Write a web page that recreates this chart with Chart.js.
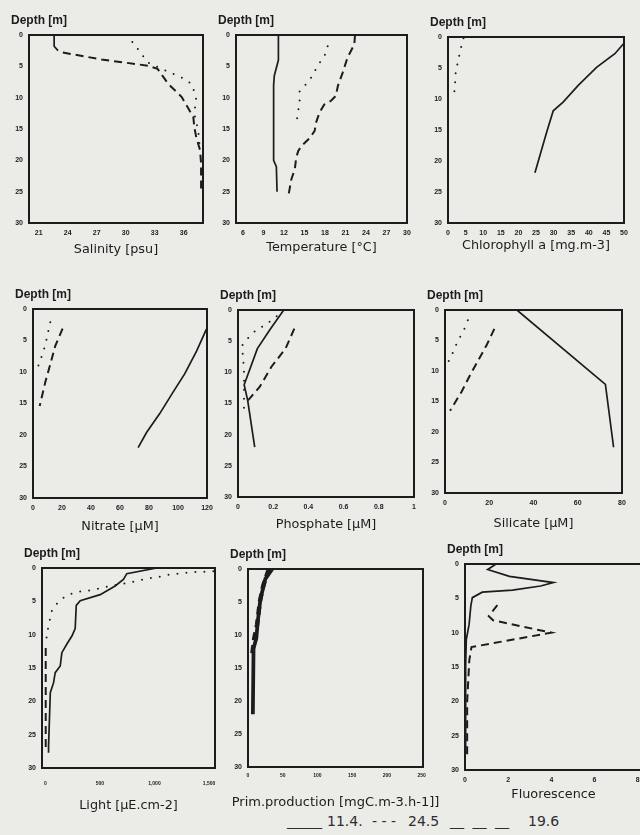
<!DOCTYPE html>
<html>
<head>
<meta charset="utf-8">
<script src="https://cdn.jsdelivr.net/npm/chart.js@4.4.1/dist/chart.umd.min.js"></script>
<style>
  body { margin: 0; width: 640px; height: 835px; overflow: hidden; position: relative;
         background: #ebebe8; font-family: "DejaVu Sans", sans-serif; }
  .key { position: absolute; top: 813px; font-size: 14px; line-height: 16px; color: #2e2e2e; white-space: pre; }
</style>
</head>
<body>
<span class="key" style="left:287px">_____</span>
<span class="key" style="left:327px">11.4.</span>
<span class="key" style="left:372px">- - -</span>
<span class="key" style="left:408px">24.5</span>
<span class="key" style="left:450px;word-spacing:4px">__ __ __</span>
<span class="key" style="left:528px">19.6</span>
<script>
// station profiles as [value, depth] pairs; solid = 11.4., dotted = 24.5, dashed = 19.6
const depthTicks = [0, 5, 10, 15, 20, 25, 30];

const salinitySolid = [[22.6, 0], [22.6, 1.8], [23.0, 2.5]];
const salinityDotted = [[30.1, 0], [30.9, 1.5], [32.3, 4.4], [33.7, 5.4], [35.8, 6.8], [36.8, 7.8],
  [37.3, 9.9], [37.1, 12.6], [37.5, 15.2], [37.7, 18.4]];
const salinityDashed = [[23.5, 2.8], [27.5, 3.9], [32.3, 4.9], [33.3, 5.4], [34.4, 7.8], [35.8, 9.9],
  [36.4, 11.5], [37.0, 13.1], [37.1, 14.7], [37.3, 16.3], [37.7, 18.4], [37.8, 20.5], [37.8, 24.8]];
const salinityTicks = [21, 24, 27, 30, 33, 36];

const tempSolid = [[11.2, 0], [11.2, 4], [10.6, 6.5], [10.5, 8], [10.5, 20], [10.9, 21], [11.0, 25]];
const tempDotted = [[18.4, 1.8], [17.9, 3.5], [16.9, 4.9], [16.2, 6.5], [15.3, 7.8], [14.3, 8.9],
  [14.3, 10.5], [14.1, 12.1], [13.8, 14.3]];
const tempDashed = [[22.4, 0], [22.3, 1.5], [21.3, 3.6], [20.6, 6], [19.9, 8.1], [19.6, 9.7], [18.9, 10.5],
  [17.9, 11.1], [17.2, 12.4], [16.7, 14.0], [16.5, 15.3], [15.8, 16.4], [14.6, 17.7], [14.1, 18.5],
  [13.8, 19.6], [13.6, 21.4], [13.1, 23], [12.6, 26]];
const tempTicks = [6, 9, 12, 15, 18, 21, 24, 27, 30];

const chlSolid = [[50, 1], [47.4, 2.7], [42.2, 4.9], [37, 7.8], [32.7, 10.5], [29.9, 11.9], [28, 15.4], [24.7, 21.9]];
const chlDotted = [[4.4, 0.2], [3.6, 1.9], [2.9, 3.8], [2.2, 5.6], [2.0, 7.6], [1.7, 9.5]];
const chlTicks = [0, 5, 10, 15, 20, 25, 30, 35, 40, 45, 50];

const nitrateSolid = [[119.6, 3.2], [112.8, 6.7], [104.6, 10.3], [96.6, 13.2], [87.4, 16.6], [78.3, 19.6], [72.5, 22]];
const nitrateDotted = [[11.9, 2.1], [10.3, 3.8], [8.5, 5.7], [6.2, 7.4], [3.4, 9.2]];
const nitrateDashed = [[20.4, 3.1], [15.3, 5.9], [11.9, 8.8], [8.5, 11.6], [4.6, 15.4]];
const nitrateTicks = [0, 20, 40, 60, 80, 100, 120];

const phosphateSolid = [[0.26, 0], [0.18, 3.2], [0.11, 6.2], [0.035, 12], [0.055, 14.5], [0.095, 22]];
const phosphateDotted = [[0.22, 1], [0.16, 2.3], [0.10, 3.3], [0.057, 4.5], [0.023, 5.7], [0.029, 7.8],
  [0.034, 9.4], [0.034, 15.8]];
const phosphateDashed = [[0.32, 3], [0.27, 6.2], [0.19, 9.1], [0.124, 12.3], [0.057, 14.5]];
const phosphateTicks = [0, 0.2, 0.4, 0.6, 0.8, 1];

const silicateSolid = [[32.5, 0], [72.5, 12.2], [76.2, 22.5]];
const silicateDotted = [[10.3, 1.7], [8.3, 3.5], [5.7, 5.1], [3.8, 6.8], [1.5, 8.5]];
const silicateDashed = [[22.3, 3.1], [18.9, 5.7], [15.1, 8.2], [11.3, 10.7], [7.5, 13.4], [2.3, 16.5]];
const silicateTicks = [0, 20, 40, 60, 80];

const lightSolid = [[1021, 0], [747, 0.85], [716, 1.7], [640, 2.7], [503, 4.0], [320, 4.9], [284, 5.6],
  [274, 9.1], [244, 10.2], [198, 11.4], [152, 12.7], [137, 14.7], [91, 15.7], [76, 17.2], [46, 18.7],
  [30, 26.8], [30, 27.7]];
const lightDotted = [[1540, 0.5], [1357, 0.6], [1235, 0.8], [1128, 1.0], [1021, 1.4], [930, 1.6], [823, 2.0],
  [701, 2.4], [595, 2.7], [488, 3.1], [396, 3.4], [290, 3.6], [198, 4.1], [122, 5.0], [61, 6.4],
  [40, 7.9], [15, 9.9], [5, 11.6]];
const lightDashed = [[4, 12], [4, 20], [4, 27]];
const lightTicks = [0, 500, 1000, 1500];

const prodSolid = [[35, 0], [25, 1.5], [18, 4.5], [14, 8], [12, 10.5], [8, 12], [7, 22]];
const prodDashed = [[30, 0], [22, 2.5], [17, 5], [13, 8.5], [9, 10.5], [6, 13]];
const prodTicks = [0, 50, 100, 150, 200, 250];

const fluorSolid = [[1.44, 0], [1.05, 0.8], [2.06, 1.8], [4.1, 2.7], [3.5, 3.2], [2.2, 3.8], [0.8, 4.1],
  [0.34, 4.9], [0.27, 6.1], [0.19, 8.8], [0.06, 11], [0.03, 14.9], [0.03, 27.6]];
const fluorDashed = [[1.5, 6.0], [1.1, 7.6], [1.3, 8.2], [4.0, 10.0], [0.3, 12.1], [0.2, 14], [0.1, 20], [0.1, 28]];
const fluorTicks = [0, 2, 4, 6, 8];

const ink = '#1c1c1c';

// plot boxes are [left, top, right, bottom] in page pixels; gap = box bottom to axis title centre
const panels = [
  { box: [29, 35, 203, 223], gap: 27, title: 'Salinity [psu]', min: 20, max: 38, ticks: salinityTicks,
    series: [salinitySolid, salinityDotted, salinityDashed] },
  { box: [236, 35, 407, 223], gap: 25, title: 'Temperature [°C]', min: 5, max: 30, ticks: tempTicks,
    series: [tempSolid, tempDotted, tempDashed] },
  { box: [448, 37, 624, 223], gap: 23, title: 'Chlorophyll a [mg.m-3]', min: 0, max: 50, ticks: chlTicks,
    series: [chlSolid, chlDotted, null] },
  { box: [33, 309, 207, 498], gap: 29, title: 'Nitrate [µM]', min: 0, max: 120, ticks: nitrateTicks,
    series: [nitrateSolid, nitrateDotted, nitrateDashed] },
  { box: [238, 310, 414, 497], gap: 28, title: 'Phosphate [µM]', min: 0, max: 1, ticks: phosphateTicks,
    series: [phosphateSolid, phosphateDotted, phosphateDashed] },
  { box: [445, 310, 622, 493], gap: 31, title: 'Silicate [µM]', min: 0, max: 80, ticks: silicateTicks,
    series: [silicateSolid, silicateDotted, silicateDashed] },
  { box: [42, 568, 215, 768], gap: 38, tickPad: 13, title: 'Light [µE.cm-2]', min: -30, max: 1555, ticks: lightTicks,
    series: [lightSolid, lightDotted, lightDashed], tiny: true },
  { box: [248, 569, 423, 767], gap: 36, title: 'Prim.production [mgC.m-3.h-1]]', titleSize: 13, min: 0, max: 252,
    ticks: prodTicks, series: [prodSolid, null, prodDashed], tiny: true, thick: 2.2 },
  { box: [465, 564, 642, 770], gap: 25, title: 'Fluorescence', min: 0, max: 8.2, ticks: fluorTicks,
    series: [fluorSolid, null, fluorDashed] }
];

const styles = [
  { borderWidth: 1.7, borderDash: [] },
  { borderWidth: 2, borderDash: [0, 9], borderCapStyle: 'round' },
  { borderWidth: 2, borderDash: [8, 5] }
];

// closed box around the plot, the depth caption above it and the variable name below
const frame = {
  id: 'frame',
  afterDraw(chart) {
    const a = chart.chartArea, ctx = chart.ctx, p = chart.options.panel;
    ctx.save();
    ctx.strokeStyle = ink;
    ctx.lineWidth = 2;
    ctx.strokeRect(a.left, a.top, a.right - a.left, a.bottom - a.top);
    ctx.fillStyle = ink;
    ctx.textBaseline = 'middle';
    ctx.font = 'bold 12px "Liberation Sans", Arial, sans-serif';
    ctx.fillText('Depth [m]', a.left - 18, a.top - 14);
    ctx.font = `${p.titleSize || 12.8}px "DejaVu Sans", sans-serif`;
    ctx.textAlign = 'center';
    ctx.fillText(p.title, (a.left + a.right) / 2, a.bottom + p.gap);
    ctx.restore();
  }
};

panels.forEach(p => {
  const [l, t, r, b] = p.box;
  const axisH = p.gap + 8;
  const w = r - l + 40 + 24, h = b - t + 30 + axisH;
  const cv = document.createElement('canvas');
  cv.width = w; cv.height = h;
  cv.style.cssText = `position:absolute;left:${l - 40}px;top:${t - 30}px;width:${w}px;height:${h}px`;
  document.body.appendChild(cv);

  const datasets = [];
  p.series.forEach((s, i) => {
    if (!s) return;
    datasets.push({
      data: s.map(([x, y]) => ({ x, y })),
      showLine: true, pointRadius: 0, fill: false, tension: 0,
      borderColor: ink,
      ...styles[i],
      borderWidth: styles[i].borderWidth * (p.thick || 1)
    });
  });

  new Chart(cv, {
    type: 'scatter',
    data: { datasets },
    options: {
      panel: p,
      responsive: false, animation: false,
      layout: { padding: { top: 30, right: 24, left: 0, bottom: 0 } },
      plugins: { legend: { display: false }, tooltip: { enabled: false } },
      scales: {
        x: {
          type: 'linear', min: p.min, max: p.max,
          grid: { display: false, drawTicks: false }, border: { display: false },
          afterBuildTicks: s => { s.ticks = p.ticks.map(v => ({ value: v })); },
          afterFit: s => { s.height = axisH; },
          ticks: {
            autoSkip: false, maxRotation: 0, padding: p.tickPad || 6, color: ink,
            font: { size: p.tiny ? 5 : 7, weight: 'bold', family: '"Liberation Sans", Arial, sans-serif' },
            callback: v => v >= 1000 ? v.toLocaleString('en-US') : String(v)
          }
        },
        y: {
          type: 'linear', reverse: true, min: 0, max: 30,
          grid: { display: false, drawTicks: false }, border: { display: false },
          afterBuildTicks: s => { s.ticks = depthTicks.map(v => ({ value: v })); },
          afterFit: s => { s.width = 40; },
          ticks: { autoSkip: false, padding: 6, color: ink,
                   font: { size: 7, weight: 'bold', family: '"Liberation Sans", Arial, sans-serif' } }
        }
      }
    },
    plugins: [frame]
  });
});
</script>
</body>
</html>
